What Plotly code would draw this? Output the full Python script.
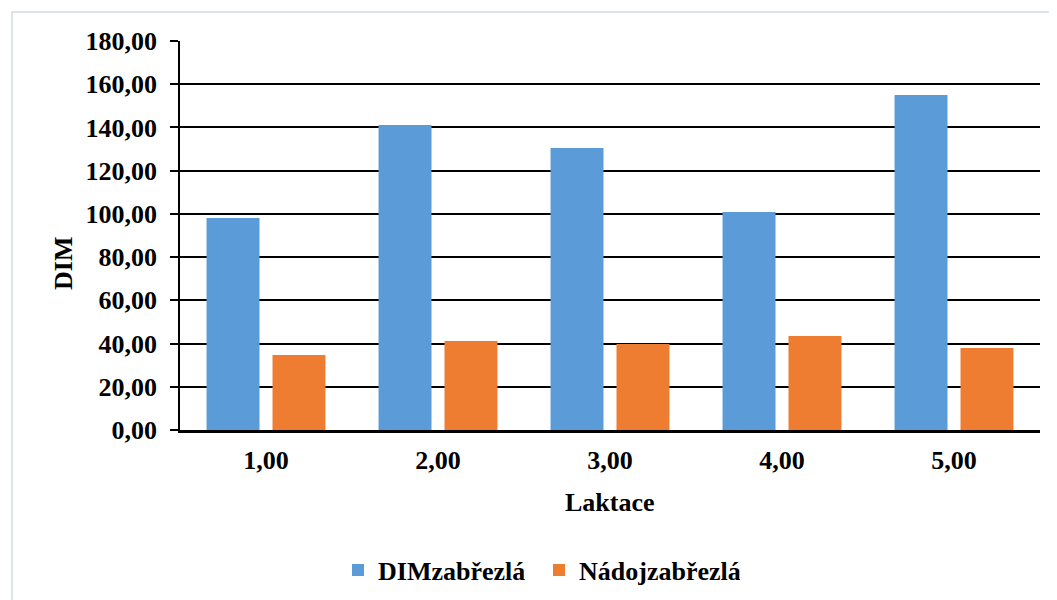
import plotly.graph_objects as go

laktace = ["1,00", "2,00", "3,00", "4,00", "5,00"]
dim_zabrezla = [98.1, 141.1, 130.5, 100.9, 155.0]
nadoj_zabrezla = [34.7, 41.2, 39.8, 43.5, 37.9]
y_ticks = [0, 20, 40, 60, 80, 100, 120, 140, 160, 180]
y_labels = [f"{v:.2f}".replace(".", ",") for v in y_ticks]

font_serif = dict(family="Liberation Serif", size=26, color="black", weight="bold")

fig = go.Figure()
fig.add_trace(go.Bar(x=laktace, y=dim_zabrezla, name="DIMzabřezlá",
                     marker=dict(color="#5a9bd8", line=dict(width=0))))
fig.add_trace(go.Bar(x=laktace, y=nadoj_zabrezla, name="Nádojzabřezlá",
                     marker=dict(color="#ee7d32", line=dict(width=0))))

# page body has an 8px margin, so the figure is sized/shifted to compensate
fig.update_layout(
    width=1049, height=592,
    margin=dict(l=172, r=17, t=33, b=170, autoexpand=False),
    paper_bgcolor="white", plot_bgcolor="white",
    font=font_serif,
    barmode="group", bargap=0.233, bargroupgap=0.197,
    showlegend=True,
    legend=dict(orientation="h", x=(338 - 8) / 1049, xanchor="left", xref="container",
                y=1 - 562 / 592, yanchor="middle", yref="container", font=font_serif,
                itemwidth=30, entrywidth=156, traceorder="normal"),
    hovermode=False,
)

fig.update_xaxes(showgrid=False, showline=True, linecolor="black", linewidth=2.5,
                 ticks="", tickfont=font_serif, automargin=False, ticklabelstandoff=5)
fig.update_yaxes(range=[0, 180], tickvals=y_ticks, ticktext=y_labels,
                 showgrid=True, gridcolor="black", gridwidth=1.5,
                 showline=True, linecolor="black", linewidth=1.5,
                 ticks="outside", ticklen=8, tickwidth=1.5, tickcolor="black",
                 tickfont=font_serif, zeroline=False, automargin=False,
                 ticklabelstandoff=8)

fig.add_annotation(text="DIM", xref="paper", yref="paper", x=(63 - 180) / 860, y=(430 - 263) / 389,
                   textangle=-90, showarrow=False, font=font_serif, xanchor="center", yanchor="middle")
fig.add_annotation(text="Laktace", xref="paper", yref="paper", x=0.5, y=(430 - 502) / 389,
                   showarrow=False, font=font_serif, xanchor="center", yanchor="middle")

# outer chart border (only top/left edge visible in the crop)
fig.add_shape(type="rect", xref="paper", yref="paper",
              x0=-0.1953, y0=-0.6, x1=1.2, y1=1.0746,
              line=dict(color="#dde3ea", width=2), layer="below")

fig.write_html("out.html")
